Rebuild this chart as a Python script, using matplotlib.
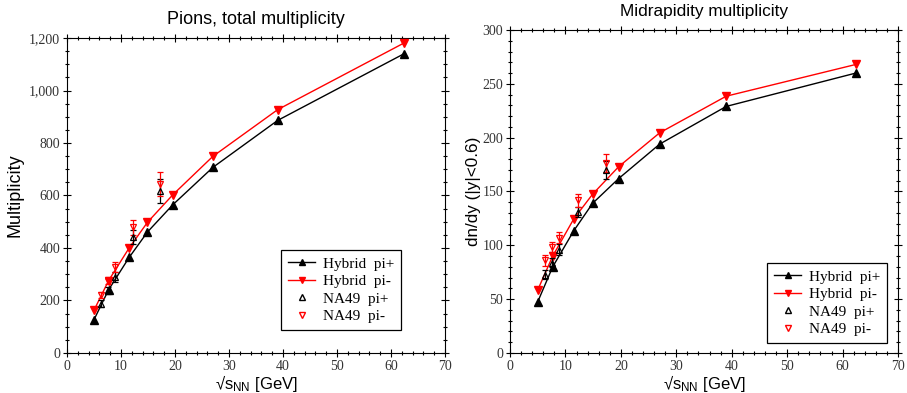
import matplotlib.pyplot as plt
import numpy as np
from matplotlib.ticker import MultipleLocator, FuncFormatter
from matplotlib.lines import Line2D

# hybrid model energies and NA49 energies
hyb_x = [5.0, 7.7, 11.5, 14.9, 19.6, 27.0, 39.0, 62.4]
na49_x = [6.3, 7.6, 8.8, 12.3, 17.3]

# total multiplicity
tot_hyb_pip = [127, 241, 364, 461, 565, 707, 886, 1140]
tot_hyb_pim = [163, 276, 400, 498, 603, 749, 927, 1181]
tot_na49_pip = [188, 239, 290, 442, 616]
tot_na49_pip_err = [12, 14, 18, 28, 45]
tot_na49_pim = [222, 276, 328, 479, 644]
tot_na49_pim_err = [12, 14, 18, 28, 45]

# midrapidity dn/dy
mid_hyb_pip = [47.5, 80, 113.5, 139, 162, 194, 229, 260]
mid_hyb_pim = [58.5, 90, 124.5, 147.5, 173, 204.5, 238.5, 268]
mid_na49_pip = [72.8, 84, 96, 131, 170]
mid_na49_pip_err = [4, 4, 5, 5, 8]
mid_na49_pim = [86, 98.5, 107, 142, 176.5]
mid_na49_pim_err = [5, 5, 5, 6, 8]

serif = 'Liberation Serif'
sans = 'Liberation Sans'

fig = plt.figure(figsize=(9.07, 3.93), dpi=100)
ax1 = fig.add_axes([0.0739, 0.1018, 0.4168, 0.8015])
ax2 = fig.add_axes([0.5623, 0.1018, 0.4278, 0.8219])


def draw(ax, hp, hm, np_, npe, nm, nme, legpos):
    ax.plot(hyb_x, hp, '-', color='black', lw=1, marker='^', ms=6, zorder=3)
    ax.plot(hyb_x, hm, '-', color='red', lw=1, marker='v', ms=6, zorder=3)
    ax.errorbar(na49_x, np_, yerr=npe, fmt='^', mfc='none', mec='black',
                ecolor='black', ms=5, mew=0.9, capsize=2.5, elinewidth=0.9,
                zorder=4)
    ax.errorbar(na49_x, nm, yerr=nme, fmt='v', mfc='none', mec='red',
                ecolor='red', ms=5, mew=0.9, capsize=2.5, elinewidth=0.9,
                zorder=4)
    ax.set_xlim(0, 70)
    ax.xaxis.set_major_locator(MultipleLocator(10))
    ax.xaxis.set_minor_locator(MultipleLocator(2))
    ax.tick_params(which='both', direction='inout', top=True, right=True,
                   labelsize=10, labelcolor='#333333', pad=2)
    ax.tick_params(which='major', length=6, width=0.8)
    ax.tick_params(which='minor', length=3, width=0.8)
    ax.set_xlabel('√' + r'$\mathregular{s_{NN}}$' + ' [GeV]', fontsize=12,
                  fontfamily=sans, labelpad=0)
    handles = [
        Line2D([], [], color='black', lw=1, marker='^', ms=5),
        Line2D([], [], color='red', lw=1, marker='v', ms=5),
        Line2D([], [], ls='none', marker='^', ms=4, mfc='none', mec='black'),
        Line2D([], [], ls='none', marker='v', ms=4, mfc='none', mec='red'),
    ]
    labels = ['Hybrid  pi+', 'Hybrid  pi-', 'NA49  pi+', 'NA49  pi-']
    leg = ax.legend(handles, labels, loc='lower right', bbox_to_anchor=legpos,
                    fancybox=False, edgecolor='black', framealpha=1,
                    borderpad=0.45, handlelength=1.8, labelspacing=0.25,
                    handletextpad=0.5, borderaxespad=0,
                    prop={'family': serif, 'size': 11})
    leg.get_frame().set_linewidth(0.9)


draw(ax1, tot_hyb_pip, tot_hyb_pim, tot_na49_pip, tot_na49_pip_err,
     tot_na49_pim, tot_na49_pim_err, (0.884, 0.073))
ax1.set_ylim(0, 1200)
ax1.yaxis.set_major_locator(MultipleLocator(200))
ax1.yaxis.set_minor_locator(MultipleLocator(50))
ax1.yaxis.set_major_formatter(FuncFormatter(lambda v, p: f'{int(v):,}'))
ax1.set_ylabel('Multiplicity', fontsize=13, fontfamily=sans, labelpad=4)
ax1.set_title('Pions, total multiplicity', fontsize=13, fontfamily=sans, pad=10)

draw(ax2, mid_hyb_pip, mid_hyb_pim, mid_na49_pip, mid_na49_pip_err,
     mid_na49_pim, mid_na49_pim_err, (0.972, 0.031))
ax2.set_ylim(0, 300)
ax2.yaxis.set_major_locator(MultipleLocator(50))
ax2.yaxis.set_minor_locator(MultipleLocator(10))
ax2.set_ylabel('dn/dy (|y|<0.6)', fontsize=12.3, fontfamily=sans, labelpad=1)
ax2.set_title('Midrapidity multiplicity', fontsize=12.4, fontfamily=sans, pad=10)

for ax in (ax1, ax2):
    for lab in ax.get_xticklabels() + ax.get_yticklabels():
        lab.set_fontfamily(serif)

fig.savefig('out.png', dpi=100)
